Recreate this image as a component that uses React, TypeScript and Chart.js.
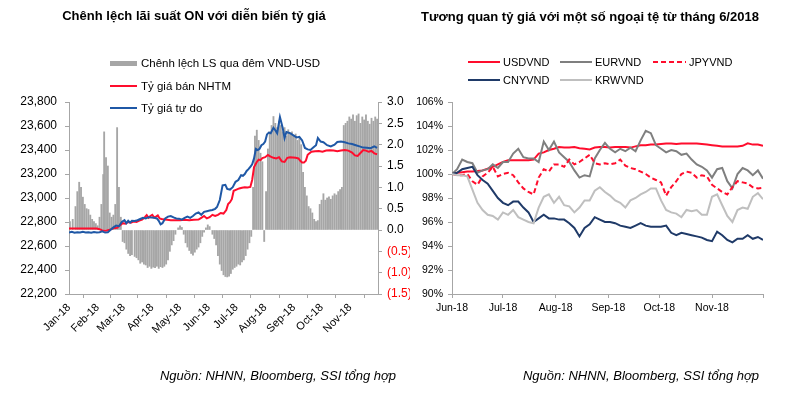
import React, { useEffect, useRef } from 'react';
import { Chart, registerables } from 'chart.js';

Chart.register(...registerables);

const FONT = "'Liberation Sans', Arial, Helvetica, sans-serif";
const RED = '#ff0d2d';
const BLUE = '#1f58a6';
const NAVY = '#1f3a68';
const GREY_DARK = '#7f7f7f';
const GREY_LIGHT = '#bfbfbf';
const BAR_GREY = '#a6a6a6';
const AXIS = '#a6a6a6';

// ---------- Left chart data (day of year 2018) ----------
const monthStartDays = [0, 31, 59, 90, 120, 151, 181, 212, 243, 273, 304];
const monthLabels = ['Jan-18', 'Feb-18', 'Mar-18', 'Apr-18', 'May-18', 'Jun-18', 'Jul-18', 'Aug-18', 'Sep-18', 'Oct-18', 'Nov-18'];

const spreadDays = [
  1, 4, 7, 9, 11, 13, 15, 17, 19, 21,
  23, 25, 27, 29, 31, 33, 35, 37, 38, 40,
  42, 44, 46, 48, 50, 52, 54, 56, 58, 60,
  62, 64, 66, 68, 71, 73, 75, 77, 79, 81,
  83, 85, 87, 89, 91, 93, 95, 97, 99, 101,
  103, 105, 107, 109, 111, 113, 115, 118, 120, 122,
  124, 126, 128, 130, 132, 134, 136, 138, 140, 142,
  144, 146, 148, 150, 152, 155, 157, 159, 161, 163,
  165, 167, 169, 171, 173, 175, 177, 179, 181, 183,
  185, 187, 189, 191, 193, 195, 197, 199, 201, 203,
  205, 207, 209, 211, 213, 215, 217, 219, 221, 223,
  225, 227, 229, 231, 233, 235, 237, 239, 241, 243,
  245, 247, 249, 251, 253, 255, 257, 259, 261, 263,
  265, 267, 269, 271, 273, 275, 277, 279, 281, 283,
  285, 287, 289, 291, 293, 295, 297, 299, 301, 303,
  305, 307, 309, 311, 313, 315, 317, 319, 321, 323,
  325, 327, 329, 331, 333,
];
const spreadValues = [
  0.20, 0.25, 0.55, 0.90, 1.12, 1.00, 0.77, 0.60, 0.50, 0.48,
  0.35, 0.25, 0.20, 0.15, 0.10, 0.30, 0.60, 1.30, 2.30, 1.70,
  1.50, 0.40, 0.30, 0.35, 0.60, 2.40, 1.00, 0.30, -0.27, -0.30,
  -0.45, -0.55, -0.60, -0.58, -0.62, -0.65, -0.70, -0.78, -0.75, -0.80,
  -0.82, -0.88, -0.85, -0.90, -0.87, -0.88, -0.85, -0.90, -0.86, -0.88,
  -0.85, -0.80, -0.70, -0.50, -0.35, -0.25, -0.10, 0.05, 0.10, 0.06,
  -0.10, -0.30, -0.40, -0.48, -0.55, -0.59, -0.52, -0.45, -0.40, -0.30,
  -0.15, -0.05, 0.05, 0.12, 0.08, -0.10, -0.20, -0.35, -0.60, -0.80,
  -0.95, -1.05, -1.09, -1.10, -1.08, -1.02, -0.92, -0.88, -0.85, -0.80,
  -0.82, -0.75, -0.70, -0.60, -0.45, -0.30, -0.15, 1.00, 2.20, 2.34,
  2.10, 1.80, 1.60, -0.27, 0.90, 1.90, 2.30, 2.45, 2.66, 2.50,
  2.40, 2.55, 2.45, 2.30, 2.40, 2.20, 2.35, 2.25, 2.30, 2.20,
  2.25, 2.10, 2.15, 2.00, 1.35, 1.00, 0.80, 0.55, 0.50, 0.40,
  0.25, 0.20, 0.22, 0.60, 0.70, 0.85, 0.70, 0.75, 0.78, 0.72,
  0.80, 0.85, 0.82, 0.90, 0.95, 1.00, 2.45, 2.50, 2.55, 2.65,
  2.60, 2.70, 2.55, 2.68, 2.72, 2.50, 2.65, 2.58, 2.70, 2.55,
  2.48, 2.62, 2.55, 2.65, 2.60,
];

const nhtmDays = [
  0, 5, 10, 15, 20, 25, 30, 33, 36, 40,
  44, 48, 52, 55, 58, 61, 64, 67, 70, 73,
  76, 79, 82, 84, 86, 88, 90, 92, 94, 96,
  98, 100, 103, 106, 110, 115, 120, 125, 130, 135,
  140, 143, 146, 149, 152, 155, 158, 161, 164, 167,
  170, 172, 174, 176, 178, 181, 184, 187, 190, 193,
  196, 198, 200, 203, 205, 207, 209, 212, 215, 218,
  221, 224, 227, 230, 233, 236, 239, 242, 245, 248,
  250, 252, 254, 256, 258, 262, 266, 270, 274, 278,
  282, 286, 290, 294, 298, 302, 306, 309, 312, 315,
  318, 321, 324, 327, 330, 333,
];
const nhtmValues = [
  22745, 22745, 22745, 22745, 22745, 22745, 22745, 22740, 22730, 22728,
  22735, 22748, 22752, 22772, 22790, 22785, 22800, 22795, 22805, 22800,
  22812, 22820, 22840, 22858, 22835, 22850, 22860, 22838, 22845, 22855,
  22830, 22825, 22820, 22818, 22815, 22815, 22815, 22818, 22815, 22818,
  22820, 22835, 22850, 22830, 22840, 22860, 22850, 22860, 22875, 22870,
  22900, 22950, 22965, 22990, 23060, 23070, 23080, 23085, 23090, 23088,
  23092, 23150, 23258, 23300, 23320, 23315, 23333, 23340, 23358, 23345,
  23335, 23330, 23340, 23305, 23300, 23335, 23340, 23338, 23335, 23330,
  23310, 23295, 23295, 23310, 23360, 23385, 23390, 23392, 23385, 23395,
  23398, 23395, 23390, 23395, 23400, 23395, 23378, 23355, 23350, 23375,
  23400, 23395, 23385, 23392, 23372, 23365,
];

const freeDays = [
  0, 3, 6, 9, 12, 15, 18, 21, 24, 27,
  30, 33, 36, 39, 42, 45, 48, 51, 54, 57,
  60, 62, 64, 66, 68, 71, 74, 77, 80, 83,
  86, 89, 92, 95, 97, 99, 101, 104, 107, 110,
  113, 116, 119, 122, 125, 128, 131, 134, 137, 140,
  143, 146, 149, 152, 155, 158, 160, 163, 166, 169,
  171, 174, 177, 180, 183, 186, 188, 190, 192, 194,
  196, 198, 200, 202, 204, 206, 208, 210, 212, 214,
  216, 218, 221, 223, 225, 228, 231, 233, 235, 239,
  243, 246, 249, 252, 255, 258, 261, 264, 267, 269,
  272, 275, 279, 283, 287, 290, 294, 298, 302, 306,
  310, 314, 318, 322, 326, 330, 333,
];
const freeValues = [
  22712, 22718, 22710, 22715, 22712, 22718, 22712, 22715, 22710, 22716,
  22712, 22715, 22722, 22712, 22715, 22735, 22755, 22770, 22765, 22800,
  22815, 22790, 22810, 22795, 22810, 22808, 22815, 22825, 22835, 22830,
  22840, 22838, 22835, 22830, 22810, 22780, 22790, 22830, 22845, 22850,
  22838, 22830, 22828, 22820, 22835, 22845, 22835, 22850, 22870, 22880,
  22860, 22885, 22890, 22895, 22900, 22910, 22925, 22983, 23105, 23110,
  23075, 23070, 23090, 23135, 23150, 23190, 23185, 23200, 23225, 23240,
  23260, 23280, 23330, 23410, 23400, 23410, 23440, 23450, 23470, 23530,
  23545, 23540, 23585, 23565, 23540, 23675, 23583, 23500, 23550, 23540,
  23520, 23505, 23510, 23480, 23417, 23405, 23400, 23420, 23440, 23500,
  23470, 23465, 23440, 23430, 23445, 23467, 23470, 23465, 23455, 23450,
  23440, 23430, 23420, 23418, 23415, 23430, 23418,
];

// ---------- Right chart data (days since 1 Jun 2018) ----------
const fxMonthDays = [0, 30, 61, 92, 122, 153, 183];
const fxMonthLabels = ['Jun-18', 'Jul-18', 'Aug-18', 'Sep-18', 'Oct-18', 'Nov-18', ''];
const fxDays = [
  0, 3, 6, 9, 12, 15, 18, 21, 24, 27,
  30, 33, 36, 39, 42, 45, 48, 51, 54, 57,
  60, 63, 66, 69, 72, 75, 78, 81, 84, 87,
  90, 93, 96, 99, 102, 105, 108, 111, 114, 117,
  120, 123, 126, 129, 132, 135, 138, 141, 144, 147,
  150, 153, 156, 159, 162, 165, 168, 171, 174, 177,
  180, 183,
];
const usdValues = [
  100.0, 100.1, 100.15, 100.2, 100.2, 100.25, 100.3, 100.45, 100.6, 100.8,
  101.0, 101.15, 101.15, 101.15, 101.15, 101.15, 101.2, 101.7, 101.8, 102.0,
  102.1, 102.25, 102.2, 102.2, 102.25, 102.15, 102.1, 102.05, 102.2, 102.25,
  102.25, 102.2, 102.25, 102.25, 102.25, 102.2, 102.3, 102.4, 102.4, 102.45,
  102.45, 102.5, 102.55, 102.55, 102.5, 102.55, 102.55, 102.55, 102.55, 102.5,
  102.45, 102.4, 102.35, 102.3, 102.3, 102.3, 102.3, 102.35, 102.55, 102.45,
  102.45, 102.35,
];
const eurValues = [
  100.0, 100.4, 101.2, 101.0, 100.9, 100.1, 100.3, 100.4, 100.8, 100.5,
  101.0, 101.0, 101.7, 102.1, 101.4, 101.3, 101.3, 101.0, 102.7, 102.0,
  102.7, 101.8, 101.4, 101.0, 100.3, 99.7, 99.9, 99.8, 101.3, 102.0,
  102.6, 102.1, 101.8, 102.1, 101.9, 102.2, 101.9, 102.8, 103.6, 103.4,
  102.4, 102.1, 101.8, 102.0, 101.9, 101.6, 101.7, 101.2, 100.8, 100.6,
  100.3, 99.7, 100.4, 100.5, 99.4, 98.8, 100.0, 100.5, 100.3, 99.9,
  100.3, 99.6,
];
const jpyValues = [
  100.0, 99.9, 99.9, 100.0, 99.4, 99.1, 99.8, 100.1, 100.6, 99.8,
  100.0, 100.1, 99.9, 99.3, 98.8, 98.5, 98.3, 99.7, 100.4, 100.2,
  100.8, 100.8, 100.6, 101.2, 100.8, 101.0, 101.3, 101.6, 100.9, 100.8,
  100.9, 100.8, 100.9, 101.2, 100.7, 100.5, 100.4, 100.2, 100.0, 99.7,
  99.5, 99.3, 98.2, 98.9, 99.4, 100.0, 100.2, 100.1, 99.7, 99.9,
  99.8, 99.1, 98.8, 98.5, 98.3, 98.9, 99.4, 99.3, 99.2, 98.9,
  98.8, 98.85,
];
const cnyValues = [
  100.0, 100.1, 100.4, 100.5, 100.6, 99.9, 99.5, 99.2, 98.6, 98.0,
  97.6, 97.4, 97.7, 97.7, 97.2, 96.8, 96.0, 96.3, 96.6, 96.3,
  96.3, 96.2, 96.2, 95.9, 95.5, 94.8, 95.5, 95.8, 96.4, 96.2,
  96.0, 96.0, 95.9, 95.7, 95.6, 95.5, 95.7, 95.9, 95.7, 95.6,
  95.6, 95.6, 95.7, 95.1, 94.9, 95.1, 95.0, 94.9, 94.8, 94.7,
  94.5, 94.4, 95.2, 94.9, 94.5, 94.3, 94.6, 94.6, 94.9, 94.6,
  94.75, 94.5,
];
const krwValues = [
  100.0, 99.9, 99.9, 99.8, 98.7, 97.6, 97.0, 96.6, 96.5, 96.2,
  96.8, 96.6, 97.0, 96.4, 96.2, 96.0, 95.9, 97.2, 98.1, 98.3,
  97.6, 98.1, 97.4, 97.3, 96.8, 97.2, 97.8, 97.8, 98.6, 98.9,
  98.5, 98.2, 97.8, 97.6, 97.2, 97.8, 98.0, 98.3, 98.5, 98.8,
  98.8, 97.8, 97.0, 96.8, 96.7, 96.4, 97.0, 96.9, 97.0, 96.6,
  96.6, 98.1, 98.3, 97.4, 96.5, 96.0, 97.0, 97.2, 97.1, 98.1,
  98.4, 97.9,
];

const toXY = (xs: number[], ys: number[]) => xs.map((x, i) => ({ x, y: ys[i] }));

const gridCfg = { display: true, drawOnChartArea: false, drawTicks: true, tickLength: 4, color: AXIS, lineWidth: 1 };
const borderCfg = { display: true, color: AXIS, width: 1 };

function LegendItem(props: { x: number; y: number; w: number; gap: number; text: string; color: string; kind: 'line' | 'bar' | 'dash'; size: number }) {
  const { x, y, w, gap, text, color, kind, size } = props;
  const bg = kind === 'dash'
    ? `repeating-linear-gradient(to right, ${color} 0px, ${color} 5px, transparent 5px, transparent 8px)`
    : color;
  return (
    <div style={{ position: 'absolute', left: x, top: y - 9, height: 18, display: 'flex', alignItems: 'center', whiteSpace: 'nowrap', fontFamily: FONT, fontSize: size, color: '#000', zIndex: 2 }}>
      <span style={{ display: 'inline-block', width: w, height: kind === 'bar' ? 5 : 2, background: bg, marginRight: gap }} />
      <span>{text}</span>
    </div>
  );
}

function CenteredText(props: { cx: number; cy: number; text: string; size: number; bold?: boolean; italic?: boolean }) {
  const { cx, cy, text, size, bold, italic } = props;
  return (
    <div style={{ position: 'absolute', left: cx, top: cy - 10, height: 20, lineHeight: '20px', transform: 'translateX(-50%)', whiteSpace: 'nowrap', fontFamily: FONT, fontSize: size, fontWeight: bold ? 'bold' : 'normal', fontStyle: italic ? 'italic' : 'normal', color: '#000', zIndex: 2 }}>
      {text}
    </div>
  );
}

export default function App() {
  const leftRef = useRef<HTMLCanvasElement>(null);
  const rightRef = useRef<HTMLCanvasElement>(null);

  useEffect(() => {
    Chart.defaults.font.family = FONT;
    const left = new Chart(leftRef.current as HTMLCanvasElement, {
      type: 'line',
      data: {
        datasets: [
          { type: 'line', label: 'Tỷ giá tự do', data: toXY(freeDays, freeValues), borderColor: BLUE, borderWidth: 2, pointRadius: 0, yAxisID: 'y', order: 0 },
          { type: 'line', label: 'Tỷ giá bán NHTM', data: toXY(nhtmDays, nhtmValues), borderColor: RED, borderWidth: 2, pointRadius: 0, yAxisID: 'y', order: 1 },
          { type: 'bar', label: 'Chênh lệch LS qua đêm VND-USD', data: toXY(spreadDays, spreadValues), backgroundColor: BAR_GREY, barThickness: 1.2, yAxisID: 'y1', order: 2 } as any,
        ],
      },
      options: {
        responsive: false,
        animation: false,
        layout: { padding: { top: 102, left: 0, right: 0, bottom: 0 } },
        plugins: { legend: { display: false }, tooltip: { enabled: false }, title: { display: false } },
        scales: {
          x: {
            type: 'linear', min: 0, max: 334, offset: false,
            afterBuildTicks: (s: any) => { s.ticks = monthStartDays.map((v) => ({ value: v })); },
            afterFit: (s: any) => { s.height = 99; },
            ticks: {
              autoSkip: false, minRotation: 45, maxRotation: 45, padding: 3, color: '#000',
              font: { family: FONT, size: 11 },
              callback: (v: any) => { const i = monthStartDays.indexOf(Number(v)); return i >= 0 ? monthLabels[i] : ''; },
            },
            grid: gridCfg, border: borderCfg,
          },
          y: {
            position: 'left', min: 22200, max: 23800,
            afterFit: (s: any) => { s.width = 69; },
            ticks: { stepSize: 200, padding: 8, color: '#000', font: { family: FONT, size: 12 }, callback: (v: any) => Number(v).toLocaleString('en-US') },
            grid: gridCfg, border: borderCfg,
          },
          y1: {
            position: 'right', min: -1.5, max: 3,
            afterFit: (s: any) => { s.width = 32; },
            ticks: {
              stepSize: 0.5, padding: 5, font: { family: FONT, size: 12 },
              color: (ctx: any) => (ctx.tick && ctx.tick.value < 0 ? '#ff0000' : '#000'),
              callback: (v: any) => { const n = Number(v); return n < 0 ? `(${Math.abs(n).toFixed(1)})` : n.toFixed(1); },
            },
            grid: gridCfg, border: borderCfg,
          },
        },
      } as any,
    });

    const right = new Chart(rightRef.current as HTMLCanvasElement, {
      type: 'line',
      data: {
        datasets: [
          { label: 'USDVND', data: toXY(fxDays, usdValues), borderColor: RED, borderWidth: 2, pointRadius: 0, order: 4 },
          { label: 'EURVND', data: toXY(fxDays, eurValues), borderColor: GREY_DARK, borderWidth: 2, pointRadius: 0, order: 3 },
          { label: 'JPYVND', data: toXY(fxDays, jpyValues), borderColor: RED, borderWidth: 2, borderDash: [5, 3], pointRadius: 0, order: 2 },
          { label: 'CNYVND', data: toXY(fxDays, cnyValues), borderColor: NAVY, borderWidth: 2, pointRadius: 0, order: 1 },
          { label: 'KRWVND', data: toXY(fxDays, krwValues), borderColor: GREY_LIGHT, borderWidth: 2, pointRadius: 0, order: 0 },
        ],
      },
      options: {
        responsive: false,
        animation: false,
        layout: { padding: { top: 102, left: 0, right: 24, bottom: 0 } },
        plugins: { legend: { display: false }, tooltip: { enabled: false }, title: { display: false } },
        scales: {
          x: {
            type: 'linear', min: 0, max: 183, offset: false,
            afterBuildTicks: (s: any) => { s.ticks = fxMonthDays.map((v) => ({ value: v })); },
            afterFit: (s: any) => { s.height = 99; },
            ticks: {
              autoSkip: false, minRotation: 0, maxRotation: 0, padding: 4, color: '#000',
              font: { family: FONT, size: 10.5 },
              callback: (v: any) => { const i = fxMonthDays.indexOf(Number(v)); return i >= 0 ? fxMonthLabels[i] : ''; },
            },
            grid: gridCfg, border: borderCfg,
          },
          y: {
            position: 'left', min: 90, max: 106,
            afterFit: (s: any) => { s.width = 42; },
            ticks: { stepSize: 2, padding: 5, color: '#000', font: { family: FONT, size: 10.5 }, callback: (v: any) => `${v}%` },
            grid: gridCfg, border: borderCfg,
          },
        },
      } as any,
    });

    return () => { left.destroy(); right.destroy(); };
  }, []);

  return (
    <div style={{ position: 'absolute', left: 0, top: 0, width: 787, height: 393, background: '#fff', overflow: 'hidden' }}>
      <canvas ref={leftRef} width={410} height={393} style={{ position: 'absolute', left: 0, top: 0, width: 410, height: 393 }} />
      <canvas ref={rightRef} width={377} height={393} style={{ position: 'absolute', left: 410, top: 0, width: 377, height: 393 }} />

      <CenteredText cx={194} cy={16} text="Chênh lệch lãi suất ON với diễn biến tỷ giá" size={13} bold />
      <CenteredText cx={590} cy={17} text="Tương quan tỷ giá với một số ngoại tệ từ tháng 6/2018" size={13} bold />

      <LegendItem x={110} y={63} w={27} gap={4} text="Chênh lệch LS qua đêm VND-USD" color={BAR_GREY} kind="bar" size={11.5} />
      <LegendItem x={110} y={86} w={27} gap={4} text="Tỷ giá bán NHTM" color={RED} kind="line" size={11.5} />
      <LegendItem x={110} y={108} w={27} gap={4} text="Tỷ giá tự do" color={BLUE} kind="line" size={11.5} />

      <LegendItem x={468} y={62} w={32} gap={3} text="USDVND" color={RED} kind="line" size={11} />
      <LegendItem x={560} y={62} w={32} gap={3} text="EURVND" color={GREY_DARK} kind="line" size={11} />
      <LegendItem x={653} y={62} w={33} gap={3} text="JPYVND" color={RED} kind="dash" size={11} />
      <LegendItem x={468} y={80} w={32} gap={3} text="CNYVND" color={NAVY} kind="line" size={11} />
      <LegendItem x={560} y={80} w={32} gap={3} text="KRWVND" color={GREY_LIGHT} kind="line" size={11} />

      <CenteredText cx={278} cy={376} text="Nguồn: NHNN, Bloomberg, SSI tổng hợp" size={13} italic />
      <CenteredText cx={641} cy={376} text="Nguồn: NHNN, Bloomberg, SSI tổng hợp" size={13} italic />
    </div>
  );
}
